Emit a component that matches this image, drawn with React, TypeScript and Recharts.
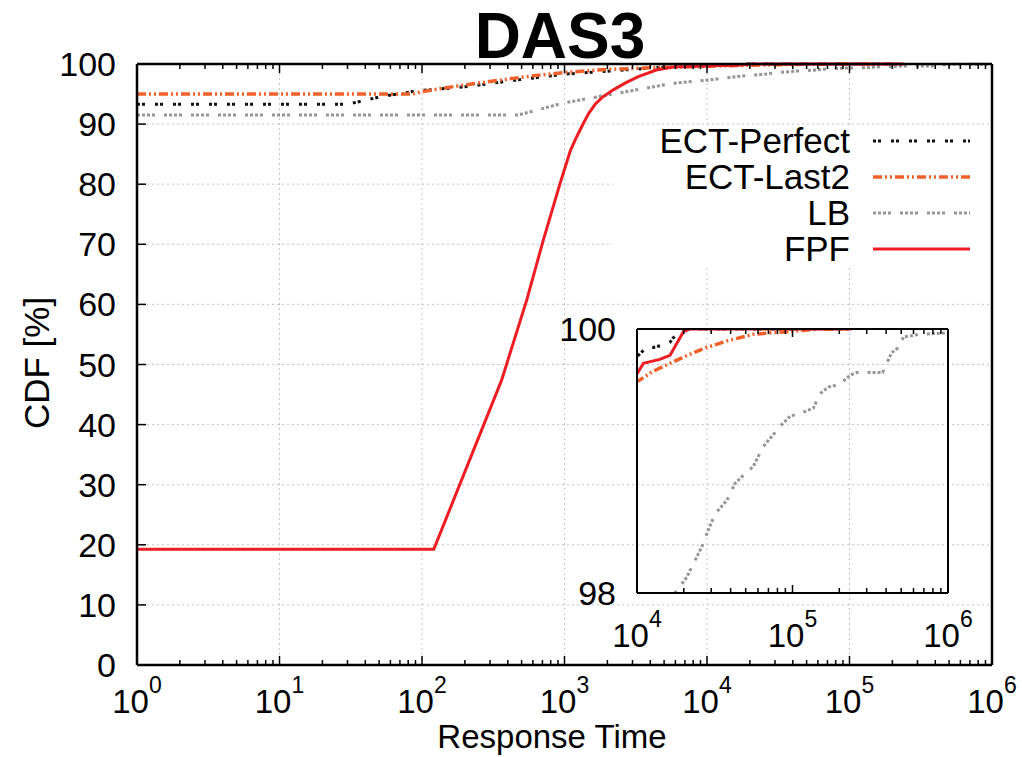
import { LineChart, Line, XAxis, YAxis, ReferenceLine, Legend } from 'recharts'

// CDF of response time (t = response time, cdf in %)
const ectPerfect = [
  { t: 1, cdf: 93.3 }, { t: 30, cdf: 93.3 }, { t: 50, cdf: 94.5 }, { t: 90, cdf: 95.5 },
  { t: 200, cdf: 96.2 }, { t: 450, cdf: 97.3 }, { t: 1000, cdf: 98.3 }, { t: 2000, cdf: 98.8 },
  { t: 5000, cdf: 99.5 }, { t: 10000, cdf: 99.79 }, { t: 11500, cdf: 99.86 }, { t: 12700, cdf: 99.86 },
  { t: 14800, cdf: 99.88 }, { t: 16300, cdf: 99.9 }, { t: 17000, cdf: 99.93 }, { t: 19400, cdf: 100 },
  { t: 200000, cdf: 100 },
]
const ectLast2 = [
  { t: 1, cdf: 95 }, { t: 85, cdf: 95 }, { t: 100, cdf: 95.4 }, { t: 195, cdf: 96.5 },
  { t: 500, cdf: 97.8 }, { t: 1000, cdf: 98.6 }, { t: 2000, cdf: 99.1 }, { t: 5000, cdf: 99.45 },
  { t: 10000, cdf: 99.6 }, { t: 12700, cdf: 99.68 }, { t: 21000, cdf: 99.8 }, { t: 28000, cdf: 99.86 },
  { t: 38000, cdf: 99.91 }, { t: 56000, cdf: 99.96 }, { t: 92000, cdf: 99.98 }, { t: 150000, cdf: 100 },
  { t: 230000, cdf: 100 },
]
const lb = [
  { t: 1, cdf: 91.5 }, { t: 470, cdf: 91.5 }, { t: 980, cdf: 93.5 }, { t: 1500, cdf: 94.3 },
  { t: 5800, cdf: 96.8 }, { t: 10000, cdf: 97.3 }, { t: 17500, cdf: 98.0 }, { t: 20900, cdf: 98.12 },
  { t: 26100, cdf: 98.35 }, { t: 28800, cdf: 98.48 }, { t: 31800, cdf: 98.6 }, { t: 37800, cdf: 98.7 },
  { t: 42700, cdf: 98.83 }, { t: 47100, cdf: 98.88 }, { t: 56000, cdf: 98.96 }, { t: 64900, cdf: 99.11 },
  { t: 83000, cdf: 99.26 }, { t: 96400, cdf: 99.34 }, { t: 111700, cdf: 99.36 }, { t: 136100, cdf: 99.4 },
  { t: 150300, cdf: 99.51 }, { t: 169800, cdf: 99.56 }, { t: 201800, cdf: 99.58 }, { t: 234400, cdf: 99.65 },
  { t: 257000, cdf: 99.67 }, { t: 380000, cdf: 99.67 }, { t: 403600, cdf: 99.74 }, { t: 434500, cdf: 99.82 },
  { t: 492000, cdf: 99.87 }, { t: 516400, cdf: 99.94 }, { t: 660700, cdf: 99.96 }, { t: 955000, cdf: 99.97 },
  { t: 1000000, cdf: 100 },
]
const fpf = [
  { t: 1, cdf: 19.25 }, { t: 121, cdf: 19.25 }, { t: 362, cdf: 47.4 }, { t: 543, cdf: 60.7 },
  { t: 710, cdf: 70.7 }, { t: 930, cdf: 80.1 }, { t: 1100, cdf: 85.6 }, { t: 1218, cdf: 87.9 },
  { t: 1355, cdf: 90.1 }, { t: 1480, cdf: 91.8 }, { t: 1640, cdf: 93.3 }, { t: 1850, cdf: 94.5 },
  { t: 2200, cdf: 95.7 }, { t: 2700, cdf: 96.9 }, { t: 3300, cdf: 97.9 }, { t: 4400, cdf: 99.0 },
  { t: 5800, cdf: 99.5 }, { t: 10000, cdf: 99.66 }, { t: 11000, cdf: 99.74 }, { t: 14000, cdf: 99.77 },
  { t: 16300, cdf: 99.8 }, { t: 18000, cdf: 99.89 }, { t: 19900, cdf: 99.98 }, { t: 22000, cdf: 100 },
  { t: 240000, cdf: 100 },
]

const xMajor = [1, 10, 100, 1000, 10000, 100000, 1000000]
const xGrid = [10, 100, 1000, 10000, 100000]
const yTicks = [0, 10, 20, 30, 40, 50, 60, 70, 80, 90, 100]
const yGrid = [10, 20, 30, 40, 50, 60, 70, 80, 90]
const insetMajor = [10000, 100000, 1000000]
const insetYTicks = [98, 100]

const minorOf = (majors: number[]) =>
  majors.slice(0, -1).flatMap((d) => [1, 2, 3, 4, 5, 6, 7, 8, 9].map((m) => m * d)).concat(majors[majors.length - 1])

const series = [
  { name: 'ECT-Perfect', data: ectPerfect, color: '#111111', dash: '3 2 3 10', width: 3 },
  { name: 'ECT-Last2', data: ectLast2, color: '#f0602a', dash: '9 3 2 3 2 3', width: 3.5 },
  { name: 'LB', data: lb, color: '#959595', dash: '3 2 3 2 3 2 3 9', width: 3 },
  { name: 'FPF', data: fpf, color: '#ee1d23', dash: undefined, width: 3 },
]

const FONT = "'Liberation Sans', Arial, sans-serif"

function xTick(major: number[], side: 'bottom' | 'top', len: number, minorLen: number, labelDy: number | null) {
  return (props: any) => {
    const { x, y, payload } = props
    const v = payload.value
    const isMajor = major.includes(v)
    const dir = side === 'bottom' ? -1 : 1
    const exp = Math.round(Math.log10(v))
    return (
      <g>
        <line x1={x} y1={y} x2={x} y2={y + dir * (isMajor ? len : minorLen)} stroke="#000" strokeWidth={1.5} />
        {labelDy != null && isMajor && (
          <text x={x} y={y + labelDy} textAnchor="middle" fontSize={33} fontFamily={FONT} fill="#000">
            10<tspan dy={-20} fontSize={23}>{exp}</tspan>
          </text>
        )}
      </g>
    )
  }
}

function yTick(side: 'left' | 'right', len: number, label: boolean) {
  return (props: any) => {
    const { x, y, payload } = props
    const dir = side === 'left' ? 1 : -1
    return (
      <g>
        {len > 0 && <line x1={x} y1={y} x2={x + dir * len} y2={y} stroke="#000" strokeWidth={1.5} />}
        {label && (
          <text x={x - 21} y={y + 12} textAnchor="end" fontSize={34} fontFamily={FONT} fill="#000">
            {payload.value}
          </text>
        )}
      </g>
    )
  }
}

function LegendBox() {
  return (
    <svg width={377} height={142} style={{ display: 'block', overflow: 'visible' }}>
      <rect width={377} height={142} fill="#fff" />
      {series.map((s, i) => (
        <g key={s.name}>
          <text x={237} y={16 + i * 36 + 12} textAnchor="end" fontSize={35} fontFamily={FONT} fill="#000">
            {s.name}
          </text>
          <line x1={260} x2={357} y1={16 + i * 36} y2={16 + i * 36} stroke={s.color}
            strokeWidth={s.width} strokeDasharray={s.dash} />
        </g>
      ))}
    </svg>
  )
}

const gridStyle = { stroke: '#c4c4c4', strokeDasharray: '2 3', strokeWidth: 1 }

export default function App() {
  const mainTicks = minorOf(xMajor)
  const insetTicks = minorOf(insetMajor)
  return (
    <div style={{ position: 'absolute', left: 0, top: 0, width: 1022, height: 757, background: '#fff', fontFamily: FONT }}>
      <div style={{ position: 'absolute', left: 0, top: 0 }}>
        <LineChart width={1022} height={757} margin={{ top: 54, right: 20, bottom: 32, left: 77 }}>
          <XAxis dataKey="t" type="number" scale="log" domain={[1, 1000000]} allowDataOverflow
            ticks={mainTicks} interval={0} height={60} tickSize={0} tickMargin={0} tickLine={false}
            axisLine={{ stroke: '#000', strokeWidth: 2.5 }} tick={xTick(xMajor, 'bottom', 9, 5, 48)} />
          <XAxis xAxisId="top" orientation="top" dataKey="t" type="number" scale="log" domain={[1, 1000000]}
            allowDataOverflow ticks={mainTicks} interval={0} height={10} tickSize={0} tickMargin={0}
            tickLine={false} axisLine={{ stroke: '#000', strokeWidth: 2.5 }} tick={xTick(xMajor, 'top', 9, 5, null)} />
          <YAxis type="number" domain={[0, 100]} ticks={yTicks} interval={0} width={60} tickSize={0}
            tickMargin={0} tickLine={false} axisLine={{ stroke: '#000', strokeWidth: 2.5 }} tick={yTick('left', 9, true)} />
          <YAxis yAxisId="right" orientation="right" type="number" domain={[0, 100]} ticks={yTicks} interval={0}
            width={10} tickSize={0} tickMargin={0} tickLine={false} axisLine={{ stroke: '#000', strokeWidth: 2.5 }}
            tick={yTick('right', 9, false)} />
          {xGrid.map((v) => (
            <ReferenceLine key={'x' + v} x={v} {...gridStyle} />
          ))}
          {yGrid.map((v) => (
            <ReferenceLine key={'y' + v} y={v} {...gridStyle} />
          ))}
          {series.map((s) => (
            <Line key={s.name} name={s.name} data={s.data} dataKey="cdf" type="linear" stroke={s.color}
              strokeWidth={s.width} strokeDasharray={s.dash} dot={false} isAnimationActive={false} />
          ))}
          <Legend layout="horizontal" verticalAlign="middle" align="center" content={() => <LegendBox />}
            wrapperStyle={{ left: 613, top: 125, width: 377, height: 142, overflow: 'visible' }} />
        </LineChart>
      </div>

      <div style={{ position: 'absolute', left: 560, top: 300 }}>
        <LineChart width={420} height={370} margin={{ top: 24, right: 27, bottom: 37, left: 27 }}>
          <XAxis dataKey="t" type="number" scale="log" domain={[10000, 1000000]} allowDataOverflow
            ticks={insetTicks} interval={0} height={40} tickSize={0} tickMargin={0} tickLine={false}
            axisLine={{ stroke: '#000', strokeWidth: 2 }} tick={xTick(insetMajor, 'bottom', 8, 5, 54)} />
          <XAxis xAxisId="top" orientation="top" dataKey="t" type="number" scale="log" domain={[10000, 1000000]}
            allowDataOverflow ticks={insetTicks} interval={0} height={5} tickSize={0} tickMargin={0}
            tickLine={false} axisLine={{ stroke: '#000', strokeWidth: 2 }} tick={xTick(insetMajor, 'top', 8, 5, null)} />
          <YAxis type="number" domain={[98, 100]} allowDataOverflow ticks={insetYTicks} interval={0} width={50}
            tickSize={0} tickMargin={0} tickLine={false} axisLine={{ stroke: '#000', strokeWidth: 2 }}
            tick={yTick('left', 0, true)} />
          <YAxis yAxisId="right" orientation="right" type="number" domain={[98, 100]} ticks={insetYTicks}
            width={5} tickSize={0} tickMargin={0} tickLine={false} axisLine={{ stroke: '#000', strokeWidth: 2 }}
            tick={false} />
          {series.map((s) => (
            <Line key={s.name} name={s.name} data={s.data} dataKey="cdf" type="linear" stroke={s.color}
              strokeWidth={s.width} strokeDasharray={s.dash} dot={false} isAnimationActive={false} />
          ))}
        </LineChart>
      </div>

      <svg width={1022} height={757} style={{ position: 'absolute', left: 0, top: 0, pointerEvents: 'none' }}>
        <text x={560} y={58} textAnchor="middle" fontSize={64} fontWeight="bold" fontFamily={FONT} fill="#000">
          DAS3
        </text>
        <text x={552} y={748} textAnchor="middle" fontSize={33} fontFamily={FONT} fill="#000">
          Response Time
        </text>
        <text transform="translate(49,363) rotate(-90)" textAnchor="middle" fontSize={35} fontFamily={FONT} fill="#000">
          CDF [%]
        </text>
      </svg>
    </div>
  )
}
